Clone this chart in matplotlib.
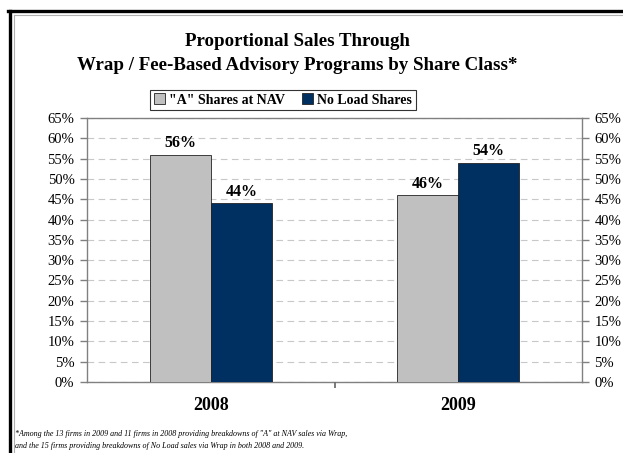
import matplotlib
matplotlib.use("Agg")
import matplotlib.pyplot as plt
from matplotlib.lines import Line2D
from matplotlib.patches import Patch
from matplotlib.transforms import blended_transform_factory
import numpy as np

years = ["2008", "2009"]
a_shares_nav = [56, 46]
no_load_shares = [44, 54]
series_names = ['"A" Shares at NAV', "No Load Shares"]
y_ticks = list(range(0, 70, 5))

plt.rcParams["font.family"] = ["Liberation Serif", "DejaVu Serif"]

W, H = 623, 453
fig = plt.figure(figsize=(W / 100, H / 100), dpi=100)

# outer frame: heavy black rule with a thin grey rule inside
fig.add_artist(Line2D([8 / W, 1], [1 - 11 / H, 1 - 11 / H], color="black", lw=2.4))
fig.add_artist(Line2D([10 / W, 10 / W], [0, 1 - 11 / H], color="black", lw=2.4))
fig.add_artist(Line2D([14 / W, 1], [1 - 15 / H, 1 - 15 / H], color="#b0b0b0", lw=0.8))
fig.add_artist(Line2D([14 / W, 14 / W], [0, 1 - 15 / H], color="#b0b0b0", lw=0.8))

ax_h = 382 - 118
ax = fig.add_axes([87 / W, 1 - 382 / H, (582 - 87) / W, ax_h / H])
x = np.arange(len(years))
w = 0.247
gray, navy = "#c0c0c0", "#003062"
b1 = ax.bar(x - w / 2, a_shares_nav, w, color=gray, edgecolor="#222222", lw=0.6, zorder=3)
b2 = ax.bar(x + w / 2, no_load_shares, w, color=navy, edgecolor="#222222", lw=0.6, zorder=3)

for bars, vals in ((b1, a_shares_nav), (b2, no_load_shares)):
    for b, v in zip(bars, vals):
        ax.text(b.get_x() + b.get_width() / 2, v + 0.9, f"{v}%", ha="center", va="bottom",
                fontsize=11.5, fontweight="bold")

ax.set_xlim(-0.5, 1.5)
ax.set_ylim(0, 65)
ax.set_yticks(y_ticks)
ax.set_yticklabels([f"{t}%" for t in y_ticks], fontsize=10.5)
ax.yaxis.grid(True, ls=(0, (6, 4)), color="#c8c8c8", lw=0.8, zorder=0)
ax.set_xticks([])
ax.tick_params(axis="y", length=5, width=1, color="#808080", pad=4)
for s in ax.spines.values():
    s.set_color("#808080")
    s.set_linewidth(1.0)
for xi, yr in zip(x, years):
    ax.text(xi, -5.7, yr, ha="center", va="center", fontsize=13, fontweight="bold",
            transform=ax.transData)

# divider tick between the two year groups
trans = blended_transform_factory(ax.transData, ax.transAxes)
ax.plot([0.5, 0.5], [0, -6 / ax_h], color="#707070", lw=1.3, transform=trans,
        clip_on=False, solid_capstyle="butt", zorder=5)

ax2 = ax.twinx()
ax2.set_ylim(0, 65)
ax2.set_yticks(y_ticks)
ax2.set_yticklabels([f"{t}%" for t in y_ticks], fontsize=10.5)
ax2.tick_params(axis="y", length=5, width=1, color="#808080", pad=4)
for s in ax2.spines.values():
    s.set_visible(False)

fig.text(297 / W, 1 - 42 / H, "Proportional Sales Through", ha="center", va="center",
         fontsize=13.6, fontweight="bold")
fig.text(297 / W, 1 - 66 / H, "Wrap / Fee-Based Advisory Programs by Share Class*",
         ha="center", va="center", fontsize=13.6, fontweight="bold")

handles = [Patch(facecolor=gray, edgecolor="#222222", lw=0.6),
           Patch(facecolor=navy, edgecolor="#222222", lw=0.6)]
leg = fig.legend(handles, series_names, loc="center", bbox_to_anchor=(283 / W, 1 - 100 / H),
                 ncol=2, frameon=True, fancybox=False, edgecolor="black",
                 prop={"weight": "bold", "size": 10}, handlelength=0.8, handleheight=0.8,
                 handletextpad=0.3, columnspacing=1.2, borderpad=0.25, borderaxespad=0)
leg.get_frame().set_linewidth(0.8)

fig.text(15 / W, 1 - 434 / H,
         '*Among the 13 firms in 2009 and 11 firms in 2008 providing breakdowns of "A" at NAV sales via Wrap,',
         ha="left", va="center", fontsize=5.8, style="italic")
fig.text(15 / W, 1 - 446 / H,
         "and the 15 firms providing breakdowns of No Load sales via Wrap in both 2008 and 2009.",
         ha="left", va="center", fontsize=5.8, style="italic")

fig.savefig("out.png", dpi=100)
